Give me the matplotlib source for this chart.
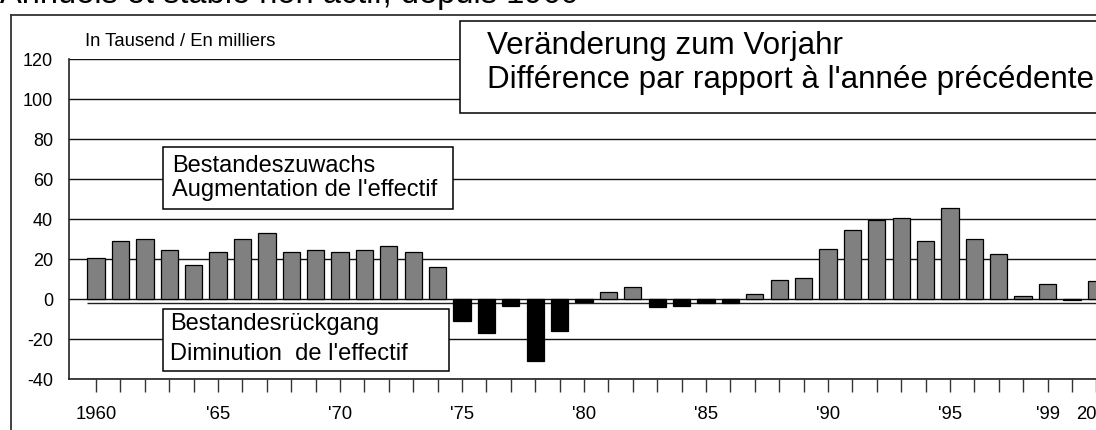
import matplotlib
matplotlib.use("Agg")
import matplotlib.pyplot as plt
from matplotlib.patches import Rectangle
from matplotlib.lines import Line2D

plt.rcParams['font.family'] = ['Liberation Sans', 'DejaVu Sans']

# ---- data -------------------------------------------------------------
years = list(range(1960, 2002))
values = [20.5, 29, 30, 24.5, 17, 23.5, 30, 33, 23.5, 24.5,
          23.5, 24.5, 26.5, 23.5, 16, -11, -17, -3.5, -31, -16,
          -1.5, 3.5, 6, -4, -3.5, -2, -2, 2.5, 9.5, 10.5,
          25, 34.5, 39.5, 40.5, 29, 45.5, 30, 22.5, 1.5, 7.5,
          -0.5, 9]
labelled = {1960: '1960', 1965: "'65", 1970: "'70", 1975: "'75", 1980: "'80",
            1985: "'85", 1990: "'90", 1995: "'95", 1999: "'99", 2001: '2001'}
y_ticks = [-40, -20, 0, 20, 40, 60, 80, 100, 120]

title = "Annuels et stable non actif, depuis 1960"
unit_label = "In Tausend / En milliers"
box_main = ["Veränderung zum Vorjahr", "Différence par rapport à l'année précédente"]
box_up = ["Bestandeszuwachs", "Augmentation de l'effectif"]
box_down = ["Bestandesrückgang", "Diminution  de l'effectif"]

# ---- layout helpers ---------------------------------------------------
W, H = 1096, 431
fig = plt.figure(figsize=(W / 100, H / 100), dpi=100)


def fx(px):
    return px / W


def fy(py):
    return 1 - py / H


ax = fig.add_axes([fx(69), fy(380), fx(1110) - fx(69), fy(60) - fy(380)])
ax.set_xlim(1958.89, 2001.56)
ax.set_ylim(-40, 120)

colors = ['#808080' if v >= 0 else '#000000' for v in values]
ax.bar(years, values, width=0.71, color=colors, edgecolor='black',
       linewidth=0.9, zorder=3)

# secondary base line just below zero (as in the original)
ax.hlines(-2, years[0] - 0.36, 2001.56, color='#222222', lw=1, zorder=2)

ax.set_yticks(y_ticks)
ax.set_yticklabels([str(t) for t in y_ticks])
ax.yaxis.grid(True, color='#111111', lw=1)
ax.set_axisbelow(True)

ax.set_xticks(years)
ax.set_xticklabels([labelled.get(y, '') for y in years])

for s in ['top', 'right']:
    ax.spines[s].set_visible(False)
for s in ['left', 'bottom']:
    ax.spines[s].set_color('#222222')
    ax.spines[s].set_linewidth(1.2)

ax.tick_params(axis='y', length=0, pad=11.5, labelsize=13, colors='black')
ax.tick_params(axis='x', length=9.5, width=1, pad=9, labelsize=13.3,
               direction='out', color='#333333')

# ---- outer frame ------------------------------------------------------
fig.add_artist(Line2D([fx(11), fx(11)], [fy(16), 0], transform=fig.transFigure,
                      color='#333333', lw=1.3))
fig.add_artist(Line2D([fx(11), 1], [fy(16), fy(16)], transform=fig.transFigure,
                      color='#333333', lw=1.3))

# ---- cut-off title ----------------------------------------------------
fig.text(fx(0), fy(3), title, fontsize=23.5, va='baseline', ha='left')

fig.text(fx(85), fy(45.5), unit_label, fontsize=13.3, va='baseline', ha='left')


def text_box(x0, y0, x1, y1, lines, tx, baselines, size):
    fig.add_artist(Rectangle((fx(x0), fy(y1)), fx(x1) - fx(x0), fy(y0) - fy(y1),
                             transform=fig.transFigure, facecolor='white',
                             edgecolor='black', lw=1.1, zorder=5))
    for line, b in zip(lines, baselines):
        fig.text(fx(tx), fy(b), line, fontsize=size, va='baseline', ha='left',
                 zorder=6)


text_box(460, 22, 1130, 114, box_main, 487, [54, 88], 22.6)
text_box(163, 148, 453, 210, box_up, 172, [171.5, 196], 17)
text_box(163, 310, 449, 372, box_down, 170, [330, 360], 17)

fig.savefig('out.png', dpi=100)
